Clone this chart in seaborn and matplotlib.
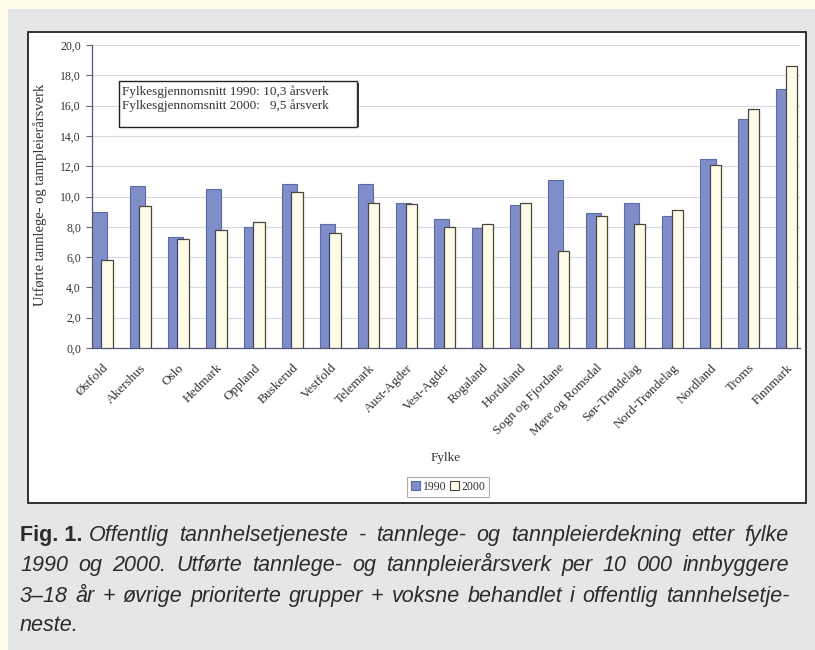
import matplotlib
matplotlib.use("Agg")
import matplotlib.pyplot as plt
import seaborn as sns
import pandas as pd
import numpy as np
from matplotlib import font_manager
from matplotlib.patches import Rectangle, Patch

# ---------------- data ----------------
fylker = ["Østfold", "Akershus", "Oslo", "Hedmark", "Oppland", "Buskerud",
          "Vestfold", "Telemark", "Aust-Agder", "Vest-Agder", "Rogaland",
          "Hordaland", "Sogn og Fjordane", "Møre og Romsdal", "Sør-Trøndelag",
          "Nord-Trøndelag", "Nordland", "Troms", "Finnmark"]
v1990 = [9.0, 10.7, 7.3, 10.5, 8.0, 10.8, 8.2, 10.8, 9.6, 8.5, 7.9, 9.45,
         11.1, 8.9, 9.6, 8.7, 12.5, 15.1, 17.1]
v2000 = [5.8, 9.4, 7.2, 7.8, 8.3, 10.3, 7.6, 9.6, 9.5, 8.0, 8.2, 9.6,
         6.4, 8.7, 8.2, 9.1, 12.1, 15.8, 18.6]
years = ["1990", "2000"]
yticks = [0, 2, 4, 6, 8, 10, 12, 14, 16, 18, 20]
ylabel = "Utførte tannlege- og tannpleierårsverk"
xlabel = "Fylke"
box_lines = ["Fylkesgjennomsnitt 1990: 10,3 årsverk",
             "Fylkesgjennomsnitt 2000:   9,5 årsverk"]
caption_bold = "Fig. 1."
caption_lines = [
    "Offentlig tannhelsetjeneste -  tannlege- og tannpleierdekning etter fylke",
    "1990 og 2000. Utførte tannlege- og tannpleierårsverk per 10 000 innbyggere",
    "3–18 år + øvrige prioriterte grupper + voksne behandlet i offentlig tannhelsetje-",
    "neste.",
]

df = pd.DataFrame({
    "Fylke": fylker * 2,
    "verdi": v1990 + v2000,
    "år": [years[0]] * len(fylker) + [years[1]] * len(fylker),
})

# ---------------- style ----------------
sns.set_theme(style="white")
avail = {f.name for f in font_manager.fontManager.ttflist}
serif = "Liberation Serif" if "Liberation Serif" in avail else "DejaVu Serif"
narrow = "Liberation Sans Narrow" if "Liberation Sans Narrow" in avail else "Liberation Sans"
plt.rcParams["font.family"] = [serif, "DejaVu Serif"]

W, H = 815, 650
YELLOW = "#fffcea"
GREY = "#e5e6e7"
BLUE = "#7f8ec8"
CREAM = "#fffde8"

fig = plt.figure(figsize=(W / 100, H / 100), dpi=100, facecolor=YELLOW)

def fx(px):
    return px / W

def fy(py):
    return 1 - py / H

# grey panel
fig.add_artist(Rectangle((fx(8), 0), 1 - fx(8), fy(9), transform=fig.transFigure,
                         facecolor=GREY, edgecolor="none", zorder=0))
# white chart box
fig.add_artist(Rectangle((fx(28), fy(503)), fx(806) - fx(28), fy(32) - fy(503),
                         transform=fig.transFigure, facecolor="white",
                         edgecolor="#222222", linewidth=1.3, zorder=0.5))

# axes
x0, x1, ytop, ybot = 92, 800, 45, 348
ax = fig.add_axes([fx(x0), fy(ybot), fx(x1) - fx(x0), fy(ytop) - fy(ybot)])
ax.set_facecolor("none")
ax.set_zorder(1)

sns.barplot(data=df, x="Fylke", y="verdi", hue="år", order=fylker,
            hue_order=years, palette=[BLUE, CREAM], ax=ax, legend=False,
            width=0.6, saturation=1)

# overlapping bar layout (blue behind, cream in front)
for j, cont in enumerate(ax.containers):
    for i, bar in enumerate(cont.patches):
        if j == 0:
            bar.set_x(i - 0.27)
            bar.set_width(0.40)
            bar.set_edgecolor("#5d6aa3")
            bar.set_linewidth(0.8)
            bar.set_zorder(2)
        else:
            bar.set_x(i - 0.02)
            bar.set_width(0.30)
            bar.set_edgecolor("#4a463e")
            bar.set_linewidth(0.9)
            bar.set_zorder(3)

ax.set_xlim(-0.263, 18.35)
ax.set_ylim(0, 20)
ax.set_yticks(yticks)
ax.set_yticklabels([f"{v:.1f}".replace(".", ",") for v in yticks],
                   fontsize=8.5, color="#333333")
for y in yticks[1:]:
    ax.axhline(y, color="#d6d8e4", linewidth=0.8, zorder=1)

ax.tick_params(axis="y", left=True, length=4, width=0.8, color="#666666", pad=4)
ax.tick_params(axis="x", bottom=False, pad=4)
ax.set_xticks(range(len(fylker)))
ax.set_xticklabels(fylker, rotation=45, ha="right", rotation_mode="anchor",
                   fontsize=9.5, color="#333333")
for s in ["top", "right"]:
    ax.spines[s].set_visible(False)
for s in ["left", "bottom"]:
    ax.spines[s].set_color("#555577")
    ax.spines[s].set_linewidth(0.9)
ax.set_xlabel("")
ax.set_ylabel("")

# y label
fig.text(fx(40), fy(195), ylabel, rotation=90, ha="center", va="center",
         fontsize=10.5, color="#333333")
# x label
fig.text(fx(446), fy(458), xlabel, ha="center", va="center", fontsize=9.5,
         color="#333333")

# annotation box
fig.add_artist(Rectangle((fx(119), fy(127)), fx(357) - fx(119), fy(81) - fy(127),
                         transform=fig.transFigure, facecolor="white",
                         edgecolor="#222222", linewidth=1.0, zorder=5))
fig.add_artist(Rectangle((fx(357), fy(127)), fx(2), fy(83) - fy(127),
                         transform=fig.transFigure, facecolor="#333333",
                         edgecolor="none", zorder=5))
for k, line in enumerate(box_lines):
    t = fig.text(fx(122), fy(92 + 14 * k), line, ha="left", va="center",
                 fontsize=9.5, color="#333333")
    t.set_zorder(6)

# legend
handles = [Patch(facecolor=BLUE, edgecolor="#5d6aa3", linewidth=0.8),
           Patch(facecolor=CREAM, edgecolor="#4a463e", linewidth=0.8)]
leg = fig.legend(handles, years, loc="center", bbox_to_anchor=(fx(448), fy(487)),
                 ncol=2, fontsize=8.5, frameon=True, fancybox=False,
                 handlelength=0.8, handleheight=0.8, handletextpad=0.2,
                 columnspacing=0.3, borderpad=0.3, edgecolor="#999999")
leg.get_frame().set_linewidth(0.8)
for txt in leg.get_texts():
    txt.set_color("#333333")

# caption (justified lines, common baseline)
cap_base = [541, 571, 602, 631]
cap_color = "#2b2b2b"
cap_fs = 15.5
cap_left, cap_right = 20, 789
fam = [narrow, "DejaVu Sans"]
renderer = fig.canvas.get_renderer()

def width_px(t):
    return t.get_window_extent(renderer=renderer).width

t1 = fig.text(fx(cap_left), fy(cap_base[0]), caption_bold, ha="left",
              va="baseline", fontsize=cap_fs, fontweight="bold", family=fam,
              color=cap_color)
start0 = cap_left + width_px(t1) + 6

for k, line in enumerate(caption_lines):
    start = start0 if k == 0 else cap_left
    if k == len(caption_lines) - 1:
        fig.text(fx(start), fy(cap_base[k]), line, ha="left", va="baseline",
                 fontsize=cap_fs, style="italic", family=fam, color=cap_color)
        continue
    words = line.split()
    texts = [fig.text(0, fy(cap_base[k]), w, ha="left", va="baseline",
                      fontsize=cap_fs, style="italic", family=fam,
                      color=cap_color) for w in words]
    widths = [width_px(t) for t in texts]
    gap = (cap_right - start - sum(widths)) / (len(words) - 1)
    xpos = start
    for t, w in zip(texts, widths):
        t.set_x(fx(xpos))
        xpos += w + gap

fig.savefig("out.png", dpi=100, facecolor=YELLOW)
